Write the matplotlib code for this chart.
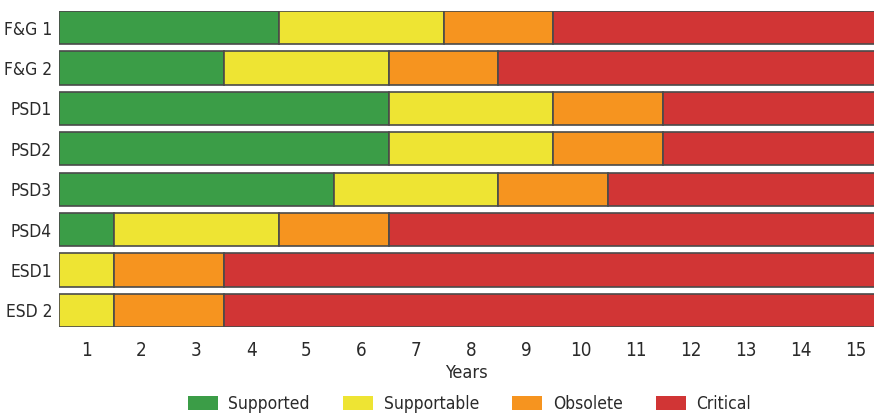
import matplotlib
matplotlib.use("Agg")
import matplotlib.pyplot as plt
from matplotlib.patches import Patch

plt.rcParams['font.family'] = ['DejaVu Sans']
plt.rcParams['font.stretch'] = 'condensed'

systems = ["F&G 1", "F&G 2", "PSD1", "PSD2", "PSD3", "PSD4", "ESD1", "ESD 2"]
categories = ["Supported", "Supportable", "Obsolete", "Critical"]
supported = [4, 3, 6, 6, 5, 1, 0, 0]
supportable = [3, 3, 3, 3, 3, 3, 1, 1]
obsolete = [2, 2, 2, 2, 2, 2, 2, 2]
critical = [6, 7, 4, 4, 5, 9, 12, 12]
start_year = 0.5
years = list(range(1, 16))

colors = ["#3b9d47", "#eee433", "#f6941f", "#d13535"]
edge = "#4a4a4a"
text_c = "#2a2a2a"

fig = plt.figure(figsize=(8.74, 4.15), dpi=100)
ax = fig.add_axes([59/874, 1-327/415, 1-59/874, (327-11)/415])

series = [supported, supportable, obsolete, critical]
left = [start_year]*len(systems)
for vals, c in zip(series, colors):
    ax.barh(range(len(systems)), vals, left=left, height=0.82, color=c,
            edgecolor=edge, linewidth=1.2)
    left = [l+v for l, v in zip(left, vals)]

ax.set_xlim(0.5, 0.5 + (874-59)/54.93)
ax.set_ylim(len(systems)-1+0.41, -0.41)
ax.set_yticks(range(len(systems)))
ax.set_yticklabels(systems, fontsize=12.5, color=text_c)
ax.set_xticks(years)
ax.set_xticklabels([str(y) for y in years], fontsize=13.5, color=text_c)
ax.tick_params(length=0, pad=5)
ax.tick_params(axis='x', pad=10)
for s in ax.spines.values():
    s.set_visible(False)
ax.set_xlabel("Years", fontsize=13, color=text_c, labelpad=3)

handles = [Patch(facecolor=c, edgecolor='none') for c in colors]
fig.legend(handles, categories, loc='center', bbox_to_anchor=(0.537, 0.026), ncol=4,
           frameon=False, fontsize=12.5, handlelength=1.75, handleheight=0.85,
           columnspacing=1.9, handletextpad=0.6, labelcolor=text_c,
           borderpad=0.1)

fig.savefig("out.png", dpi=100)
